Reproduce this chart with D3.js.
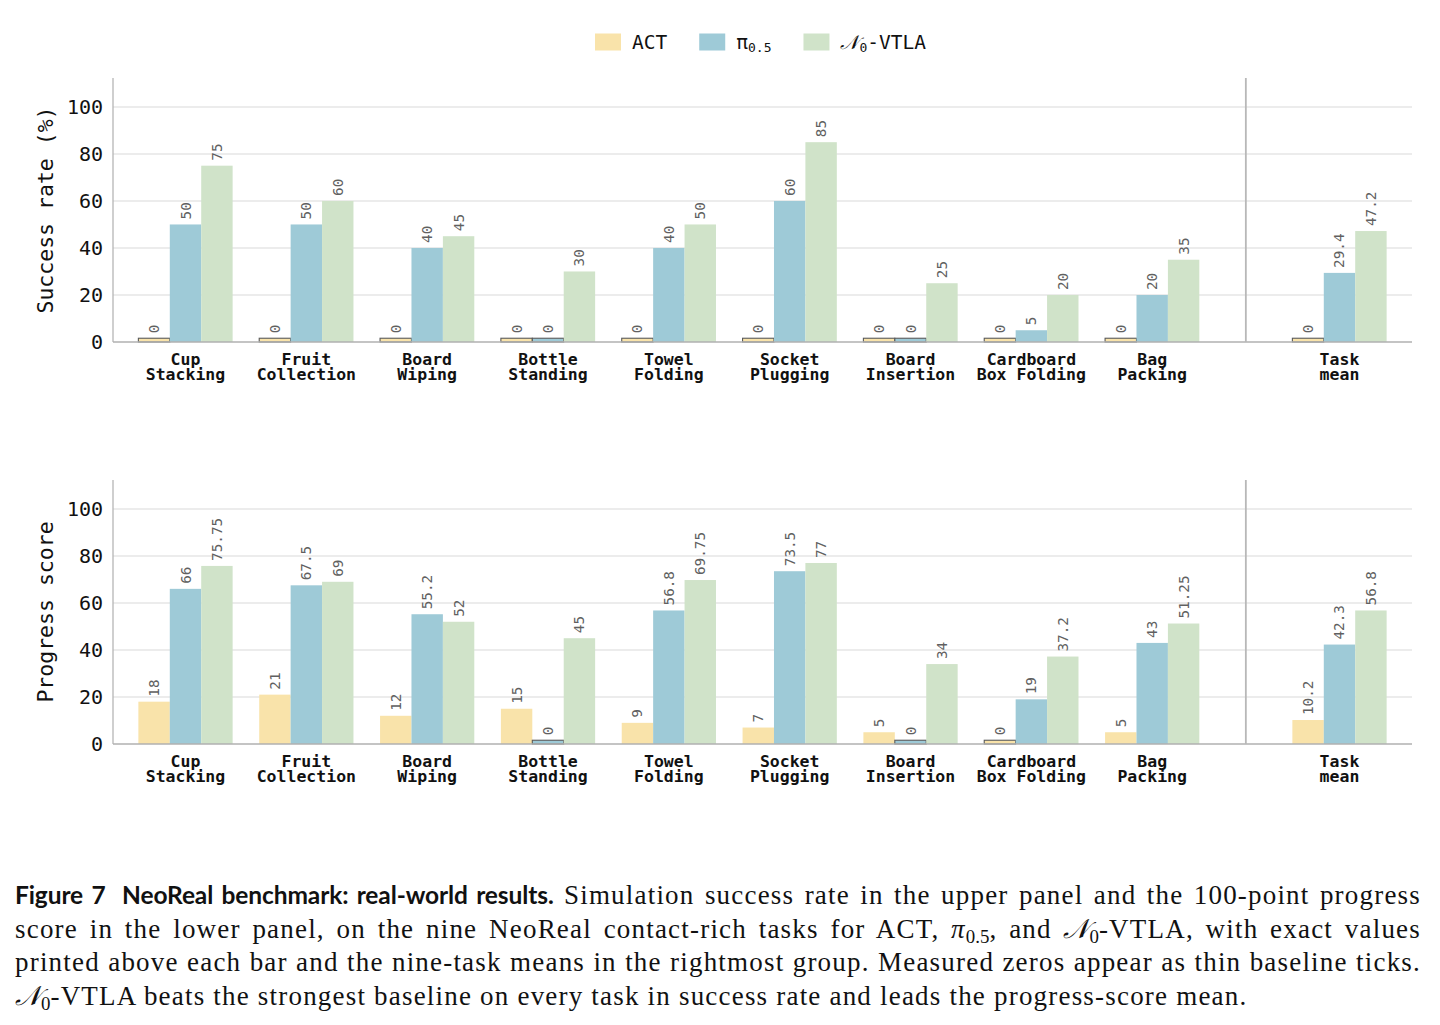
<!DOCTYPE html>
<html><head><meta charset="utf-8">
<script src="https://cdn.jsdelivr.net/npm/d3@7"></script>
<style>
body{margin:0;background:#fff;}
svg{position:absolute;left:0;top:0;}
#caption{position:absolute;left:15px;top:878px;width:1406px;font-family:"Liberation Serif","Times New Roman",serif;font-size:27px;letter-spacing:1.2px;line-height:33px;color:#111;}
#caption .ln{text-align:justify;text-align-last:justify;}
#caption .last{text-align:left;text-align-last:left;}
#caption b{font-family:Lato,"Open Sans",sans-serif;font-weight:700;font-size:24.5px;letter-spacing:-0.1px;}
#caption sub{font-size:0.7em;vertical-align:-0.25em;line-height:0;letter-spacing:0;}
.cal{font-family:"DejaVu Serif",serif;font-style:italic;letter-spacing:0;}
</style></head>
<body>
<div id="chart"></div>
<div id="caption">
<div class="ln"><b>Figure 7&nbsp;&nbsp;NeoReal benchmark: real-world results.</b> Simulation success rate in the upper panel and the 100-point progress</div>
<div class="ln">score in the lower panel, on the nine NeoReal contact-rich tasks for ACT, <i>π</i><sub>0.5</sub>, and <span class="cal">𝒩</span><sub>0</sub>-VTLA, with exact values</div>
<div class="ln">printed above each bar and the nine-task means in the rightmost group. Measured zeros appear as thin baseline ticks.</div>
<div class="ln last"><span class="cal">𝒩</span><sub>0</sub>-VTLA beats the strongest baseline on every task in success rate and leads the progress-score mean.</div>
</div>
<script>
// ---------------- data ----------------
const taskLine1 = ["Cup","Fruit","Board","Bottle","Towel","Socket","Board","Cardboard","Bag","Task"];
const taskLine2 = ["Stacking","Collection","Wiping","Standing","Folding","Plugging","Insertion","Box Folding","Packing","mean"];
const seriesNames = ["ACT","π","𝒩"];
const seriesSubs = ["","0.5","0"];
const seriesSuffix = ["","","-VTLA"];
const colors = ["#f9e3aa","#9ecad7","#d0e3c9"];

const successACT = [0,0,0,0,0,0,0,0,0,0];
const successPi  = [50,50,40,0,40,60,0,5,20,29.4];
const successN0  = [75,60,45,30,50,85,25,20,35,47.2];

const progressACT = [18,21,12,15,9,7,5,0,5,10.2];
const progressPi  = [66,67.5,55.2,0,56.8,73.5,0,19,43,42.3];
const progressN0  = [75.75,69,52,45,69.75,77,34,37.2,51.25,56.8];

const yTicks = [0,20,40,60,80,100];
const panelTitles = ["Success rate (%)","Progress score"];

// ---------------- layout ----------------
const W = 1440, H = 870;
const svg = d3.select("#chart").append("svg").attr("width",W).attr("height",H);
const mono = "'DejaVu Sans Mono', 'Liberation Mono', monospace";

const groupPos = taskLine1.map((d,i)=> i<9 ? i : 9.55);
const dividerPos = 8.775;
const barW = 0.26;
const zeroStub = 1.6;

const x = d3.scaleLinear().domain([-0.6, 10.15]).range([113, 1412]);

function panel(top, bottom, seriesData, title){
  const y = d3.scaleLinear().domain([0,112.3]).range([bottom, top]);
  const g = svg.append("g");
  // grid
  g.selectAll("line.grid").data(yTicks.filter(t=>t>0)).join("line")
    .attr("x1",x.range()[0]).attr("x2",x.range()[1])
    .attr("y1",d=>y(d)).attr("y2",d=>y(d))
    .attr("stroke","#e6e6e6").attr("stroke-width",1.5);
  // y tick labels
  g.selectAll("text.yt").data(yTicks).join("text")
    .attr("x",103).attr("y",d=>y(d)).attr("text-anchor","end")
    .attr("dominant-baseline","central")
    .attr("font-family",mono).attr("font-size",20).attr("fill","#111")
    .text(d=>d);
  // y title
  const cy = (y(0)+y(112.3))/2;
  g.append("text").attr("transform",`translate(45,${cy}) rotate(-90)`)
    .attr("text-anchor","middle").attr("dominant-baseline","central")
    .attr("font-family",mono).attr("font-size",21.5).attr("fill","#111")
    .text(title);
  // bars
  seriesData.forEach((vals,s)=>{
    const items = vals.map((v,i)=>({v,i,h: v===0?zeroStub:v, c: groupPos[i]+(s-1)*barW}));
    g.selectAll(null).data(items).join("rect")
      .attr("x",d=>x(d.c-barW/2)).attr("width",x(barW)-x(0))
      .attr("y",d=>y(d.h)).attr("height",d=>y(0)-y(d.h))
      .attr("fill",colors[s])
      .attr("stroke",d=>d.v===0?"#5a5a5a":"none")
      .attr("stroke-width",1.1);
    g.selectAll(null).data(items).join("text")
      .attr("transform",d=>`translate(${x(d.c)},${y(d.h)-5}) rotate(-90)`)
      .attr("text-anchor","start").attr("dominant-baseline","central")
      .attr("font-family",mono).attr("font-size",14.3).attr("fill","#606060")
      .text(d=>String(d.v));
  });
  // spines
  g.append("line").attr("x1",x.range()[0]).attr("x2",x.range()[0])
    .attr("y1",y(112.3)).attr("y2",y(0)).attr("stroke","#b5b5b5").attr("stroke-width",1.3);
  g.append("line").attr("x1",x.range()[0]).attr("x2",x.range()[1])
    .attr("y1",y(0)).attr("y2",y(0)).attr("stroke","#b0b0b0").attr("stroke-width",1.3);
  g.append("line").attr("x1",x(dividerPos)).attr("x2",x(dividerPos))
    .attr("y1",y(112.3)).attr("y2",y(0)).attr("stroke","#b8b8b8").attr("stroke-width",1.8);
  // x tick labels (two lines each)
  const lines = [taskLine1, taskLine2];
  lines.forEach((arr,li)=>{
    g.selectAll(null).data(arr).join("text")
      .attr("x",(d,i)=>x(groupPos[i])).attr("y",y(0)+17.5+li*15)
      .attr("text-anchor","middle").attr("dominant-baseline","central")
      .attr("font-family",mono).attr("font-size",16.5).attr("font-weight","bold").attr("fill","#111")
      .text(d=>d);
  });
}

panel(78, 342, [successACT, successPi, successN0], panelTitles[0]);
panel(480, 744, [progressACT, progressPi, progressN0], panelTitles[1]);

// ---------------- legend ----------------
const leg = svg.append("g");
let lx = 595;
seriesNames.forEach((n,s)=>{
  leg.append("rect").attr("x",lx).attr("y",33.5).attr("width",26).attr("height",17).attr("fill",colors[s]);
  const t = leg.append("text").attr("x",lx+37).attr("y",42).attr("dominant-baseline","central")
    .attr("font-family",mono).attr("font-size",19.5).attr("fill","#111");
  const main = t.append("tspan").text(n);
  if(s===2) main.attr("font-family","'DejaVu Serif', serif").attr("font-style","italic");
  if(seriesSubs[s]) t.append("tspan").attr("font-size",13).attr("dy",5).text(seriesSubs[s]);
  if(seriesSuffix[s]) t.append("tspan").attr("dy",-5).text(seriesSuffix[s]);
  lx += 37 + t.node().getComputedTextLength() + 32;
});
</script>
</body></html>
